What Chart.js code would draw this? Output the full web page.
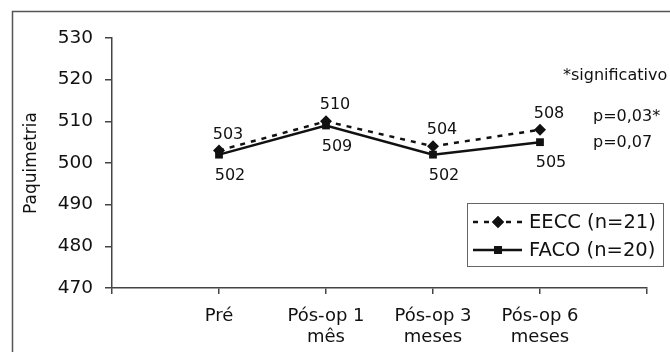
<!DOCTYPE html>
<html>
<head>
<meta charset="utf-8">
<script src="https://cdn.jsdelivr.net/npm/chart.js@4"></script>
<style>
  html, body { margin: 0; padding: 0; background: #fff; }
  canvas { display: block; }
</style>
</head>
<body>
<canvas id="grafico" width="670" height="352"></canvas>
<script>
const categorias = [['Pré'], ['Pós-op 1', 'mês'], ['Pós-op 3', 'meses'], ['Pós-op 6', 'meses']];
const eecc = [503, 510, 504, 508];
const faco = [502, 509, 502, 505];
const nomesSeries = ['EECC (n=21)', 'FACO (n=20)'];
const ticksY = [470, 480, 490, 500, 510, 520, 530];
const notas = ['*significativo', 'p=0,03*', 'p=0,07'];

const FONTE = 'DejaVu Sans';
const PRETO = '#111';

const pontos = vals => vals.map((v, i) => ({ x: i + 1, y: v }));

// rótulos de valor, moldura, notas e legenda
const extras = {
    id: 'extras',
    beforeDraw(chart) {
        const ctx = chart.ctx;
        ctx.save();
        ctx.fillStyle = '#fff';
        ctx.fillRect(0, 0, chart.width, chart.height);
        ctx.strokeStyle = '#555';
        ctx.lineWidth = 1.5;
        ctx.strokeRect(12.5, 11.5, 720, 420);
        ctx.restore();
    },
    afterDatasetsDraw(chart) {
        const ctx = chart.ctx;
        const area = chart.chartArea;
        ctx.save();
        ctx.font = `16px "${FONTE}"`;
        ctx.fillStyle = PRETO;
        ctx.textAlign = 'center';
        ctx.textBaseline = 'middle';

        chart.getDatasetMeta(0).data.forEach((p, i) => {
            ctx.fillText(String(eecc[i]), p.x + 9, p.y - 16);
        });
        chart.getDatasetMeta(1).data.forEach((p, i) => {
            ctx.fillText(String(faco[i]), p.x + 11, p.y + 21);
        });

        ctx.textAlign = 'left';
        ctx.fillText(notas[0], area.right - 84, 76);
        ctx.fillText(notas[1], area.right - 54, 117);
        ctx.fillText(notas[2], area.right - 54, 143);

        // legenda
        const lx = 467, ly = 203, lw = 196, lh = 63;
        ctx.strokeStyle = '#666';
        ctx.lineWidth = 1;
        ctx.strokeRect(lx + 0.5, ly + 0.5, lw, lh);

        const linhas = [ly + 19, ly + 47];
        ctx.strokeStyle = PRETO;
        ctx.lineWidth = 2.5;
        ctx.setLineDash([5, 6]);
        ctx.beginPath();
        ctx.moveTo(lx + 6, linhas[0]);
        ctx.lineTo(lx + 55, linhas[0]);
        ctx.stroke();
        ctx.setLineDash([]);
        ctx.beginPath();
        ctx.moveTo(lx + 6, linhas[1]);
        ctx.lineTo(lx + 55, linhas[1]);
        ctx.stroke();

        ctx.fillStyle = PRETO;
        Chart.helpers.drawPoint(ctx, { pointStyle: 'rectRot', radius: 6, borderWidth: 0 }, lx + 31, linhas[0]);
        ctx.fill();
        Chart.helpers.drawPoint(ctx, { pointStyle: 'rect', radius: 5.5, borderWidth: 0 }, lx + 31, linhas[1]);
        ctx.fill();

        ctx.font = `19.5px "${FONTE}"`;
        ctx.fillText(nomesSeries[0], lx + 62, linhas[0] + 1);
        ctx.fillText(nomesSeries[1], lx + 62, linhas[1] + 1);
        ctx.restore();
    }
};

new Chart(document.getElementById('grafico').getContext('2d'), {
    type: 'line',
    data: {
        datasets: [{
            label: nomesSeries[0],
            data: pontos(eecc),
            borderColor: PRETO,
            backgroundColor: PRETO,
            borderWidth: 2.5,
            borderDash: [5, 6],
            pointStyle: 'rectRot',
            pointRadius: 6,
            pointBorderWidth: 0,
            tension: 0
        }, {
            label: nomesSeries[1],
            data: pontos(faco),
            borderColor: PRETO,
            backgroundColor: PRETO,
            borderWidth: 2.5,
            pointStyle: 'rect',
            pointRadius: 5.5,
            pointBorderWidth: 0,
            tension: 0
        }]
    },
    options: {
        responsive: false,
        animation: false,
        devicePixelRatio: 1,
        layout: { padding: { left: 0, top: 38, right: 23, bottom: 0 } },
        plugins: { legend: { display: false }, tooltip: { enabled: false } },
        scales: {
            x: {
                type: 'linear',
                min: 0,
                max: categorias.length + 1,
                afterFit: s => { s.height = 64; },
                afterBuildTicks: s => { s.ticks = Array.from({ length: categorias.length + 2 }, (_, i) => ({ value: i })); },
                border: { display: true, color: '#444', width: 1.5 },
                grid: { drawOnChartArea: false, drawTicks: true, tickLength: 6, color: '#444', lineWidth: 1.5 },
                ticks: {
                    autoSkip: false,
                    maxRotation: 0,
                    padding: 12,
                    color: PRETO,
                    font: { family: FONTE, size: 18, lineHeight: 1.17 },
                    callback: v => categorias[v - 1] || ''
                }
            },
            y: {
                min: ticksY[0],
                max: ticksY[ticksY.length - 1],
                afterFit: s => { s.width = 112; },
                afterBuildTicks: s => { s.ticks = ticksY.map(v => ({ value: v })); },
                border: { display: true, color: '#444', width: 1.5 },
                grid: { drawOnChartArea: false, drawTicks: true, tickLength: 7, color: '#444', lineWidth: 1.5 },
                ticks: {
                    padding: 12,
                    color: PRETO,
                    font: { family: FONTE, size: 18.5 }
                },
                title: {
                    display: true,
                    text: 'Paquimetria',
                    color: PRETO,
                    font: { family: FONTE, size: 17 },
                    padding: { top: 21, bottom: 0 }
                }
            }
        }
    },
    plugins: [extras]
});
</script>
</body>
</html>
